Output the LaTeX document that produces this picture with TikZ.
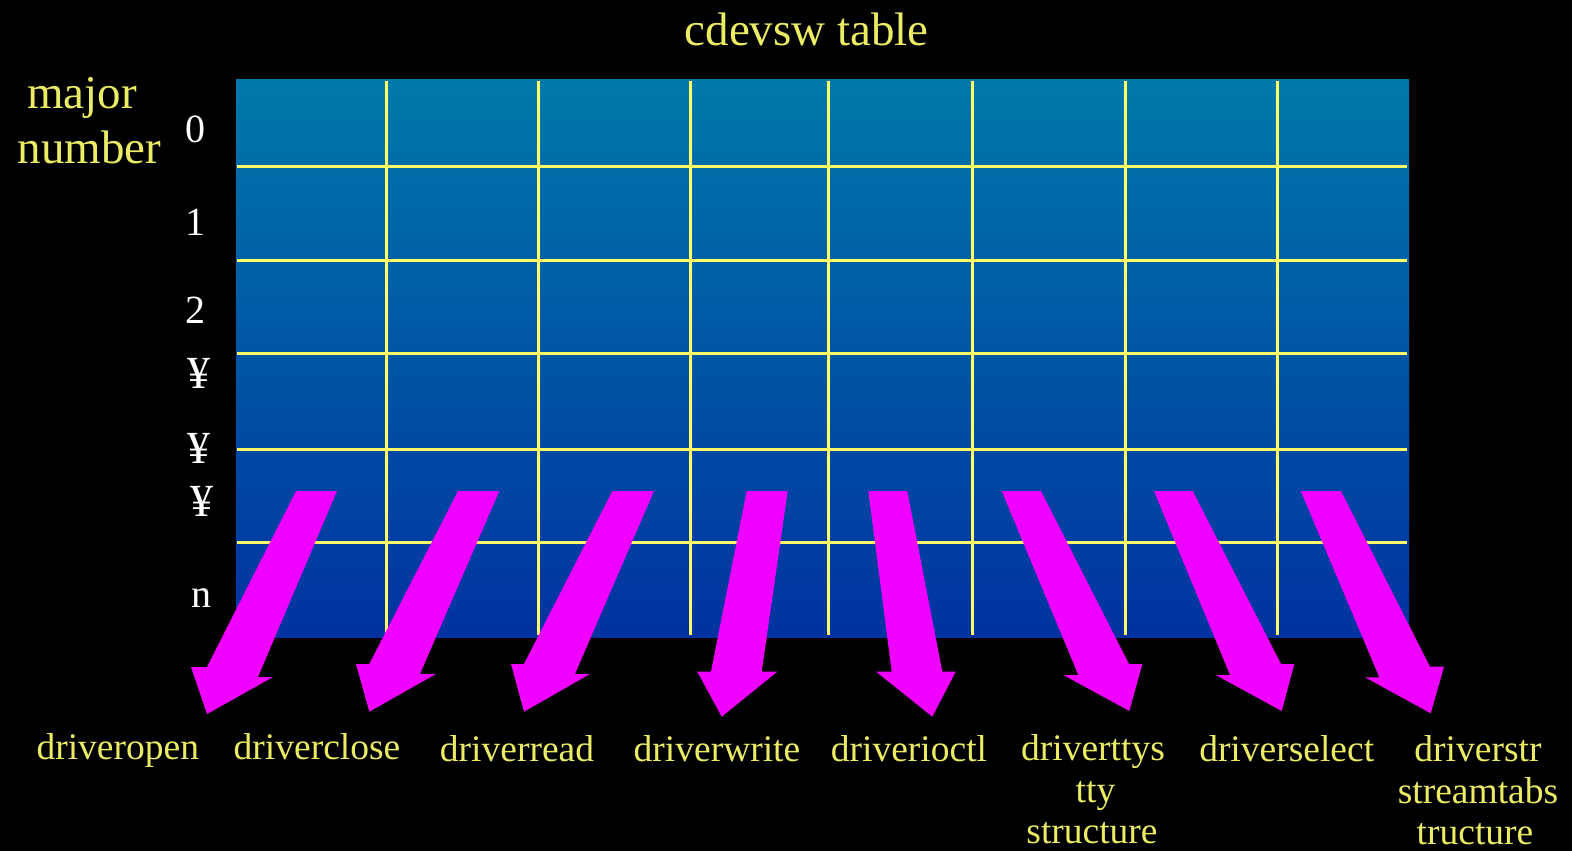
\documentclass[tikz,border=0pt]{standalone}
\usepackage{fontspec}
\setmainfont{Liberation Serif}
\definecolor{lblcol}{RGB}{235,235,100}
\definecolor{gridcol}{RGB}{255,255,102}
\definecolor{arrcol}{RGB}{240,0,255}
\definecolor{tabtop}{RGB}{0,120,170}
\definecolor{tabbot}{RGB}{0,50,160}
\begin{document}
\begin{tikzpicture}[x=1pt,y=-1pt,
  gridline/.style={draw=gridcol,line width=3pt},
  blockarrow/.style={fill=arrcol},
  lbl/.style={text=lblcol,inner sep=0pt,anchor=base,font=\fontsize{37.5}{42}\selectfont},
  bigl/.style={text=lblcol,inner sep=0pt,anchor=base,font=\fontsize{47}{52}\selectfont},
  rowl/.style={text=white,inner sep=0pt,anchor=base,font=\fontsize{40}{44}\selectfont},
  yenl/.style={text=white,inner sep=0pt,anchor=base,font=\fontsize{46}{50}\selectfont}]
\fill[black] (0,0) rectangle (1572,851);
\useasboundingbox (0,0) rectangle (1572,851);
% table
\shade[top color=tabtop,bottom color=tabbot] (236,80) rectangle (1409,637);
\foreach \x in {386.7,538,690,828.5,972.5,1125,1277}
  \draw[gridline] (\x,81) -- (\x,635);
\foreach \y in {166.7,260,353,449,542}
  \draw[gridline] (237,\y) -- (1407,\y);
% titles
\node[bigl] (title) at (806.7,45.7) {cdevsw table};
\node[bigl] (major) at (82,108.3) {major};
\node[bigl] (number) at (89.5,163.3) {number};
% row labels
\node[rowl] (r0) at (195,142) {0};
\node[rowl] (r1) at (195,235) {1};
\node[rowl] (r2) at (195,323) {2};
\node[yenl] (r3) at (199,388) {¥};
\node[yenl] (r4) at (199,463) {¥};
\node[yenl] (r5) at (201.7,516) {¥};
\node[rowl] (rn) at (201,607) {n};
% arrows
\fill[blockarrow] (296,491) -- (337,491) -- (258,677) -- (273,677) -- (207,714) -- (191,667) -- (207,667) -- cycle;
\fill[blockarrow] (458,491) -- (499.3,491) -- (420,674) -- (436,674) -- (369.3,711.7) -- (356,664) -- (369.3,664) -- cycle;
\fill[blockarrow] (612.3,491) -- (654,491) -- (575,674) -- (590,674) -- (524,711.7) -- (511,664) -- (524,664) -- cycle;
\fill[blockarrow] (746.7,491) -- (787.7,491) -- (761.7,671.7) -- (777.3,671.7) -- (721.7,716.7) -- (697.3,671.7) -- (711,671.7) -- cycle;
\fill[blockarrow] (868.3,491) -- (907.3,491) -- (942.3,671.7) -- (955.7,671.7) -- (932.3,716.7) -- (876,671.7) -- (891.7,671.7) -- cycle;
\fill[blockarrow] (1001.7,491) -- (1041,491) -- (1129,664) -- (1142.3,664) -- (1129.3,711) -- (1063.3,675) -- (1078.3,675) -- cycle;
\fill[blockarrow] (1154,491) -- (1192.7,491) -- (1281,664) -- (1294.3,664) -- (1281.7,711) -- (1215.7,675) -- (1230,675) -- cycle;
\fill[blockarrow] (1300.7,491) -- (1341,491) -- (1430,666.7) -- (1444,666.7) -- (1430.7,713.3) -- (1365,677.3) -- (1379.3,677.3) -- cycle;
% bottom labels
\node[lbl] (l1) at (117.8,759) {driveropen};
\node[lbl] (l2) at (317,759) {driverclose};
\node[lbl] (l3) at (517,761) {driverread};
\node[lbl] (l4) at (717,761) {driverwrite};
\node[lbl] (l5) at (909,761) {driverioctl};
\node[lbl] (l6a) at (1093,760) {driverttys};
\node[lbl] (l6b) at (1095.5,802) {tty};
\node[lbl] (l6c) at (1092,843) {structure};
\node[lbl] (l7) at (1286.7,761) {driverselect};
\node[lbl] (l8a) at (1478,761) {driverstr};
\node[lbl] (l8b) at (1478,803) {streamtabs};
\node[lbl] (l8c) at (1475,844) {tructure};
\end{tikzpicture}
\end{document}
